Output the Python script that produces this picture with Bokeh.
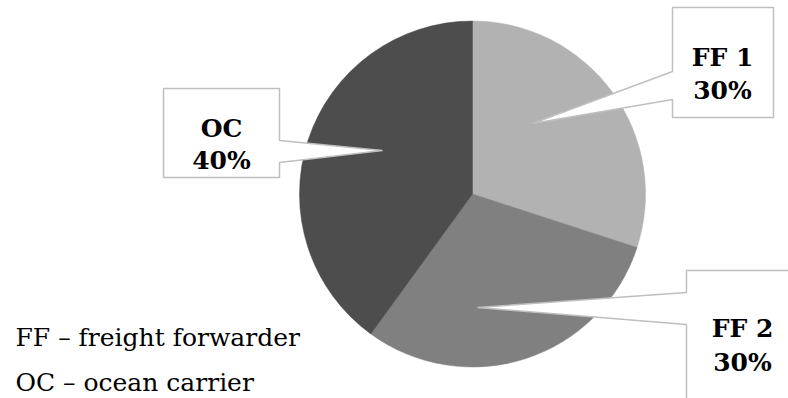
import math
from bokeh.plotting import figure
from bokeh.models import Range1d
from bokeh.core.properties import value
from bokeh.embed import file_html
from bokeh.resources import INLINE

# ---- data ----
labels = ["FF 1", "FF 2", "OC"]
shares = [30, 30, 40]
colors = ["#b2b2b2", "#808080", "#4d4d4d"]
notes = ["FF \u2013 freight forwarder", "OC \u2013 ocean carrier"]

W, H = 788, 398
p = figure(width=W, height=H, output_backend="svg", toolbar_location=None,
           x_range=Range1d(0, W), y_range=Range1d(0, H), min_border=0)
p.axis.visible = False
p.grid.visible = False
p.outline_line_color = None
p.background_fill_color = "white"
p.border_fill_color = "white"

def Y(py):
    return H - py

cx, cy, r = 472, 193.5, 173
total = sum(shares)
cum = 0.0
for lab, s, c in zip(labels, shares, colors):
    a0 = math.pi / 2 - 2 * math.pi * cum / total
    cum += s
    a1 = math.pi / 2 - 2 * math.pi * cum / total
    p.wedge(x=cx, y=Y(cy), radius=r, start_angle=a1, end_angle=a0,
            fill_color=c, line_color=c, line_width=0.5)

callouts = {
    "FF 1": dict(poly=[(672, 7), (773, 7), (773, 117), (672, 117), (672, 99), (532, 123), (672, 71)],
                 tx=722, b1=57, b2=90),
    "OC": dict(poly=[(163, 88), (279, 88), (279, 140), (382, 150), (279, 162), (279, 177), (163, 177)],
               tx=221, b1=128, b2=160),
    "FF 2": dict(poly=[(686, 270), (802, 270), (802, 412), (686, 412), (686, 324), (477, 307), (686, 292)],
                 tx=742, b1=328, b2=362),
}
font = value("DejaVu Serif")
for lab, s in zip(labels, shares):
    cdef = callouts[lab]
    xs = [q[0] for q in cdef["poly"]]
    ys = [Y(q[1]) for q in cdef["poly"]]
    p.patch(xs, ys, fill_color="white", line_color="#bfbfbf", line_width=1.5)
    p.text(x=[cdef["tx"], cdef["tx"]], y=[Y(cdef["b1"]), Y(cdef["b2"])],
           text=[lab, f"{s}%"], text_font=font, text_font_size="25px",
           text_font_style="bold", text_color="black",
           text_align="center", text_baseline="alphabetic")

p.text(x=[15, 15], y=[Y(337), Y(382)], text=notes, text_font=font,
       text_font_size="25px", text_color="black",
       text_align="left", text_baseline="alphabetic")

open("out.html", "w").write(file_html(p, INLINE))
